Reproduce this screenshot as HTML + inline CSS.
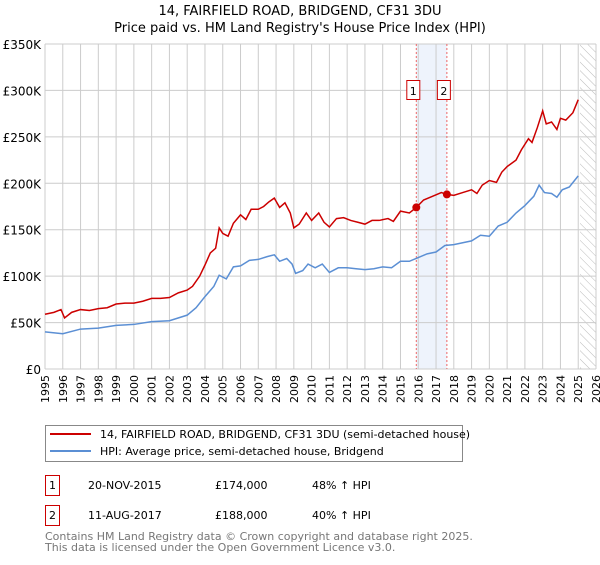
<!DOCTYPE html>
<html><head><meta charset="utf-8"><style>
body{margin:0;background:#fff;font-family:"Liberation Sans","DejaVu Sans",sans-serif;}
svg text{font-family:"DejaVu Sans","Liberation Sans",sans-serif;}
</style></head><body>
<svg id="c" width="600" height="560" xmlns="http://www.w3.org/2000/svg">
<defs><pattern id="hatch" width="6" height="6" patternUnits="userSpaceOnUse" patternTransform="rotate(-45)"><line x1="0" y1="0" x2="0" y2="6" stroke="#bbb" stroke-width="1"/></pattern></defs>
<text x="300" y="15" text-anchor="middle" font-size="13">14, FAIRFIELD ROAD, BRIDGEND, CF31 3DU</text>
<text x="300" y="32" text-anchor="middle" font-size="13">Price paid vs. HM Land Registry's House Price Index (HPI)</text>
<g id="plot"></g>
<g>
<rect x="45.5" y="425.5" width="417" height="36" fill="#fff" stroke="#888"/>
<line x1="50" y1="434" x2="91" y2="434" stroke="#cc0000" stroke-width="2"/>
<text x="100" y="438" font-size="11">14, FAIRFIELD ROAD, BRIDGEND, CF31 3DU (semi-detached house)</text>
<line x1="50" y1="451" x2="91" y2="451" stroke="#5b8fd4" stroke-width="2"/>
<text x="100" y="455" font-size="11">HPI: Average price, semi-detached house, Bridgend</text>
</g>
<g font-size="11">
<rect x="45.5" y="475.5" width="14" height="20" fill="#fff" stroke="#cc0000"/><text x="52.5" y="489" text-anchor="middle">1</text>
<text x="88" y="489">20-NOV-2015</text><text x="215" y="489">£174,000</text><text x="312" y="489">48% ↑ HPI</text>
<rect x="45.5" y="505.5" width="14" height="20" fill="#fff" stroke="#cc0000"/><text x="52.5" y="519" text-anchor="middle">2</text>
<text x="88" y="519">11-AUG-2017</text><text x="215" y="519">£188,000</text><text x="312" y="519">40% ↑ HPI</text>
</g>
<text x="45" y="540" font-size="11" fill="#777">Contains HM Land Registry data © Crown copyright and database right 2025.</text>
<text x="45" y="551" font-size="11" fill="#777">This data is licensed under the Open Government Licence v3.0.</text>
</svg>
<script>
const yTicks=[0,50,100,150,200,250,300,350];
const yTickLabels=["£0","£50K","£100K","£150K","£200K","£250K","£300K","£350K"];
const years=[1995,1996,1997,1998,1999,2000,2001,2002,2003,2004,2005,2006,2007,2008,2009,2010,2011,2012,2013,2014,2015,2016,2017,2018,2019,2020,2021,2022,2023,2024,2025,2026];
const redT=[1995.0,1995.5,1995.9,1996.1,1996.5,1997,1997.5,1998,1998.5,1999,1999.5,2000,2000.5,2001,2001.5,2002,2002.5,2003,2003.3,2003.7,2004,2004.3,2004.6,2004.8,2005,2005.3,2005.6,2006,2006.3,2006.6,2007,2007.3,2007.6,2007.9,2008.2,2008.5,2008.8,2009.0,2009.3,2009.7,2010,2010.4,2010.7,2011,2011.4,2011.8,2012.2,2012.6,2013,2013.4,2013.8,2014.3,2014.6,2015,2015.5,2015.89,2016.3,2016.8,2017.3,2017.61,2018,2018.5,2019,2019.3,2019.6,2020,2020.4,2020.7,2021,2021.5,2021.8,2022.2,2022.4,2022.7,2023.0,2023.2,2023.5,2023.8,2024,2024.3,2024.7,2025.0];
const redV=[59,61,64,55,61,64,63,65,66,70,71,71,73,76,76,77,82,85,89,100,112,125,130,152,146,143,157,166,161,172,172,175,180,184,174,179,168,152,156,168,160,168,158,153,162,163,160,158,156,160,160,162,159,170,168,174,182,186,190,188,187,190,193,189,198,203,201,212,218,225,236,248,244,260,278,264,266,258,270,268,276,290];
const blueT=[1995,1996,1997,1998,1999,2000,2001,2002,2003,2003.5,2004,2004.5,2004.8,2005.2,2005.6,2006,2006.5,2007,2007.5,2007.9,2008.2,2008.6,2008.9,2009.1,2009.5,2009.8,2010.2,2010.6,2011,2011.5,2012,2012.5,2013,2013.5,2014,2014.5,2015,2015.5,2016,2016.5,2017,2017.5,2018,2018.5,2019,2019.5,2020,2020.5,2021,2021.5,2022,2022.5,2022.8,2023.1,2023.5,2023.8,2024.1,2024.5,2025];
const blueV=[40,38,43,44,47,48,51,52,58,66,78,89,101,97,110,111,117,118,121,123,116,119,113,103,106,113,109,113,104,109,109,108,107,108,110,109,116,116,120,124,126,133,134,136,138,144,143,154,158,168,176,186,198,190,189,185,193,196,208];
const saleT=[2015.89,2017.61];
const saleV=[174,188];
const saleLabels=["1","2"];
const L=45,R=596,T=44,B=369;
const x=t=>L+(t-1995)/31*(R-L);
const y=v=>B-v/350*(B-T);
const g=document.getElementById('plot');const NS='http://www.w3.org/2000/svg';
function mk(tag,at,parent){const e=document.createElementNS(NS,tag);for(const k in at)e.setAttribute(k,at[k]);(parent||g).appendChild(e);return e;}
mk('rect',{x:L,y:T,width:R-L,height:B-T,fill:'#fff'});
mk('rect',{x:x(saleT[0]),y:T,width:x(saleT[1])-x(saleT[0]),height:B-T,fill:'#eef3fc'});
mk('rect',{x:x(2025.1),y:T,width:R-x(2025.1),height:B-T,fill:'url(#hatch)'});
years.forEach(yr=>{const l=mk('line',{x1:x(yr),x2:x(yr),y1:T,y2:B,stroke:'#ccc'});


const tx=mk('text',{x:0,y:0,'font-size':11,'text-anchor':'end',transform:`translate(${x(yr)+4},${B+6}) rotate(-90)`});tx.textContent=yr;

});
yTicks.forEach((v,i)=>{const l=mk('line',{x1:L,x2:R,y1:y(v),y2:y(v),stroke:'#ccc'});


const tx=mk('text',{x:L-4,y:y(v)+5,'font-size':12,'text-anchor':'end'});tx.textContent=yTickLabels[i];

});
saleT.forEach((t,i)=>{const l=mk('line',{x1:x(t),x2:x(t),y1:T,y2:B,stroke:'#ee6666','stroke-dasharray':'2,2'});


const bx=x(t)-10;
const r=mk('rect',{x:bx+0.5,y:80.5,width:13,height:19,fill:'#fff',stroke:'#cc0000'});


const tx=mk('text',{x:bx+7,y:95,'font-size':11,'text-anchor':'middle'});tx.textContent=saleLabels[i];

});
const bp=mk('polyline',{points:blueT.map((t,i)=>x(t)+','+y(blueV[i])).join(' '),fill:'none',stroke:'#5b8fd4','stroke-width':1.5});


const rp=mk('polyline',{points:redT.map((t,i)=>x(t)+','+y(redV[i])).join(' '),fill:'none',stroke:'#cc0000','stroke-width':1.5});


saleT.forEach((t,i)=>{const c=mk('circle',{cx:x(t),cy:y(saleV[i]),r:4,fill:'#cc0000'});

});
</script>
</body></html>
